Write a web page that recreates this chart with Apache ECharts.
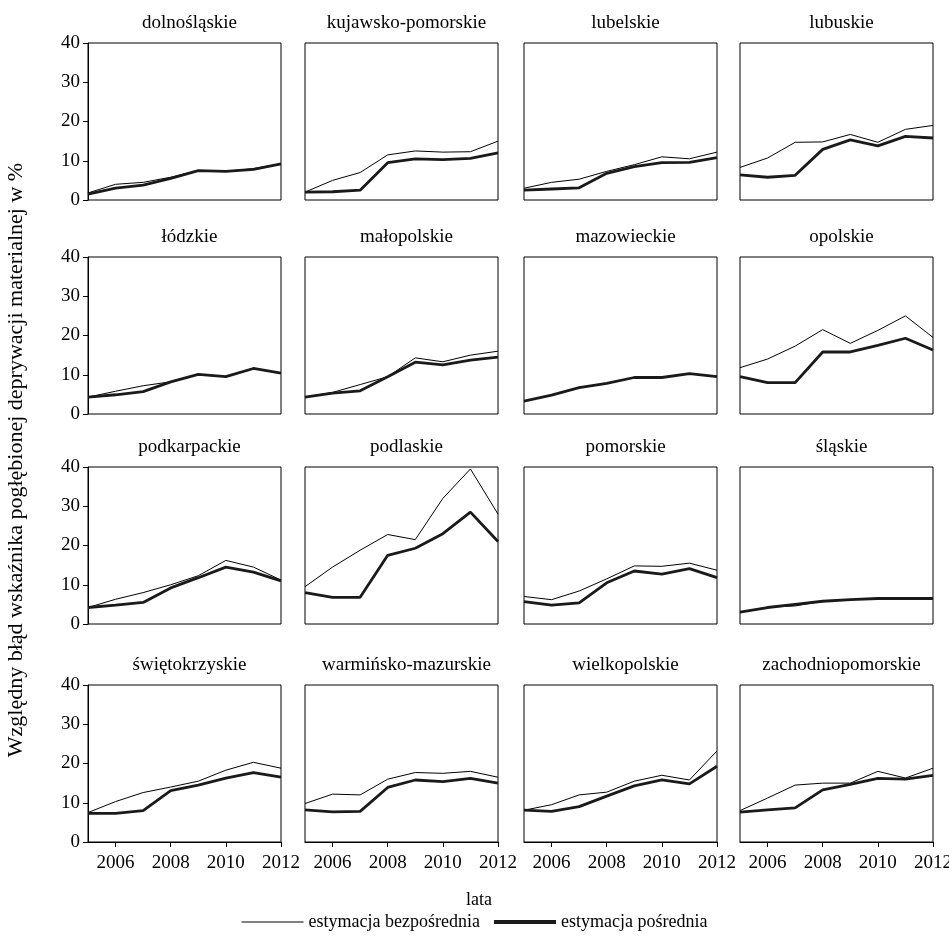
<!DOCTYPE html>
<html><head><meta charset="utf-8">
<script src="https://cdn.jsdelivr.net/npm/echarts@6/dist/echarts.min.js"></script>
<style>html,body{margin:0;padding:0;background:#fff}#c{width:949px;height:940px}</style>
</head><body><div id="c"></div>
<script>
const years=[2005,2006,2007,2008,2009,2010,2011,2012];
const regions=['dolnośląskie','kujawsko-pomorskie','lubelskie','lubuskie','łódzkie','małopolskie','mazowieckie','opolskie','podkarpackie','podlaskie','pomorskie','śląskie','świętokrzyskie','warmińsko-mazurskie','wielkopolskie','zachodniopomorskie'];
const direct=[
[1.8,4,4.5,5.8,7.5,7.3,8,9.2],
[2,5,7,11.5,12.5,12.2,12.3,15],
[3,4.5,5.3,7.3,9,11,10.5,12.2],
[8.3,10.7,14.7,14.8,16.7,14.7,18,19],
[4.3,5.8,7.2,8.2,10.1,9.5,11.7,10.3],
[4.3,5.5,7.5,9.5,14.3,13.3,15,16],
[3.3,4.8,6.7,7.8,9.3,9.3,10.3,9.5],
[11.8,14,17.3,21.5,18,21.3,25,19.5],
[4.2,6.3,8,10,12.3,16.2,14.5,11.2],
[9.5,14.5,18.8,22.8,21.5,32,39.5,28],
[7,6.2,8.4,11.5,14.8,14.7,15.5,13.7],
[3,4.3,4.6,5.8,6.2,6.5,6.5,6.5],
[7.5,10.3,12.6,14,15.5,18.3,20.3,18.8],
[9.8,12.2,12,16,17.7,17.5,18,16.5],
[8.1,9.5,12,12.7,15.5,17,15.8,23.2],
[8,11.2,14.5,15,15,18,16.3,18.8]];
const indirect=[
[1.5,3,3.8,5.5,7.5,7.3,7.8,9.2],
[2,2.1,2.5,9.5,10.5,10.3,10.6,12],
[2.5,2.8,3.1,6.8,8.5,9.5,9.6,10.8],
[6.4,5.8,6.3,12.9,15.3,13.8,16.2,15.8],
[4.3,4.9,5.7,8.2,10.1,9.5,11.6,10.4],
[4.3,5.3,5.9,9.5,13.2,12.5,13.7,14.5],
[3.3,4.8,6.7,7.8,9.3,9.3,10.3,9.5],
[9.5,8,8,15.8,15.8,17.5,19.3,16.3],
[4.2,4.8,5.5,9.2,11.8,14.5,13.2,11],
[8,6.8,6.8,17.5,19.3,23,28.5,21],
[5.7,4.8,5.4,10.5,13.5,12.7,14.1,11.8],
[3,4.2,5,5.8,6.2,6.5,6.5,6.5],
[7.3,7.3,8,13.1,14.5,16.3,17.7,16.5],
[8.2,7.7,7.8,13.9,15.8,15.4,16.2,15],
[8.1,7.8,9,11.7,14.3,15.8,14.8,19.3],
[7.6,8.2,8.7,13.3,14.7,16.2,16,17]];
const xTicks=[2006,2008,2010,2012];
const F='Liberation Serif';
const colL=[88,305,524,740], colW=193;
const rowT=[43,257,467,685], rowH=157;
const grids=[],xA=[],yA=[],series=[],titles=[];
regions.forEach((r,i)=>{
  const c=i%4,row=Math.floor(i/4);
  grids.push({left:colL[c],top:rowT[row],width:colW,height:rowH,show:true,borderColor:'#000',borderWidth:1,outerBoundsMode:'none',containLabel:false});
  xA.push({type:'value',gridIndex:i,min:2005,max:2012,
    axisLine:{show:row===3,lineStyle:{color:'#000'}},
    axisTick:{show:row===3,customValues:xTicks,length:5,lineStyle:{color:'#000'}},
    axisLabel:{show:row===3,customValues:xTicks,formatter:v=>String(v),fontFamily:F,fontSize:19,color:'#000',margin:12},
    splitLine:{show:false}});
  yA.push({type:'value',gridIndex:i,min:0,max:40,interval:10,
    axisLine:{show:c===0,lineStyle:{color:'#000'}},
    axisTick:{show:c===0,length:5,lineStyle:{color:'#000'}},
    axisLabel:{show:c===0,fontFamily:F,fontSize:19,color:'#000'},
    splitLine:{show:false}});
  series.push({type:'line',name:'estymacja bezpośrednia',xAxisIndex:i,yAxisIndex:i,data:years.map((y,k)=>[y,direct[i][k]]),showSymbol:false,lineStyle:{color:'#000',width:1},color:'#000'});
  series.push({type:'line',name:'estymacja pośrednia',xAxisIndex:i,yAxisIndex:i,data:years.map((y,k)=>[y,indirect[i][k]]),showSymbol:false,lineStyle:{color:'#1a1a1a',width:2.8},color:'#1a1a1a'});
  titles.push({text:r,left:colL[c]+colW/2,top:rowT[row]-34,textAlign:'center',textStyle:{fontFamily:F,fontSize:19,fontWeight:'normal',color:'#000'}});
});
titles.push({text:'lata',left:474,top:886,textAlign:'center',textStyle:{fontFamily:F,fontSize:18,fontWeight:'normal',color:'#000'}});
const chart=echarts.init(document.getElementById('c'));
chart.setOption({animation:false,title:titles,grid:grids,xAxis:xA,yAxis:yA,series:series,
  legend:{bottom:4,left:'center',itemWidth:62,itemHeight:4,itemGap:14,textStyle:{fontFamily:F,fontSize:18,color:'#000'},
    data:[{name:'estymacja bezpośrednia',icon:'path://M0,0H60V1H0Z',itemStyle:{color:'#000'}},{name:'estymacja pośrednia',icon:'rect',itemStyle:{color:'#1a1a1a'}}]},
  graphic:[{type:'text',x:16,y:460,rotation:Math.PI/2,style:{text:'Względny błąd wskaźnika pogłębionej deprywacji materialnej w %',fontFamily:F,fontSize:22,fill:'#000',align:'center',verticalAlign:'middle'}}]
});
</script></body></html>
